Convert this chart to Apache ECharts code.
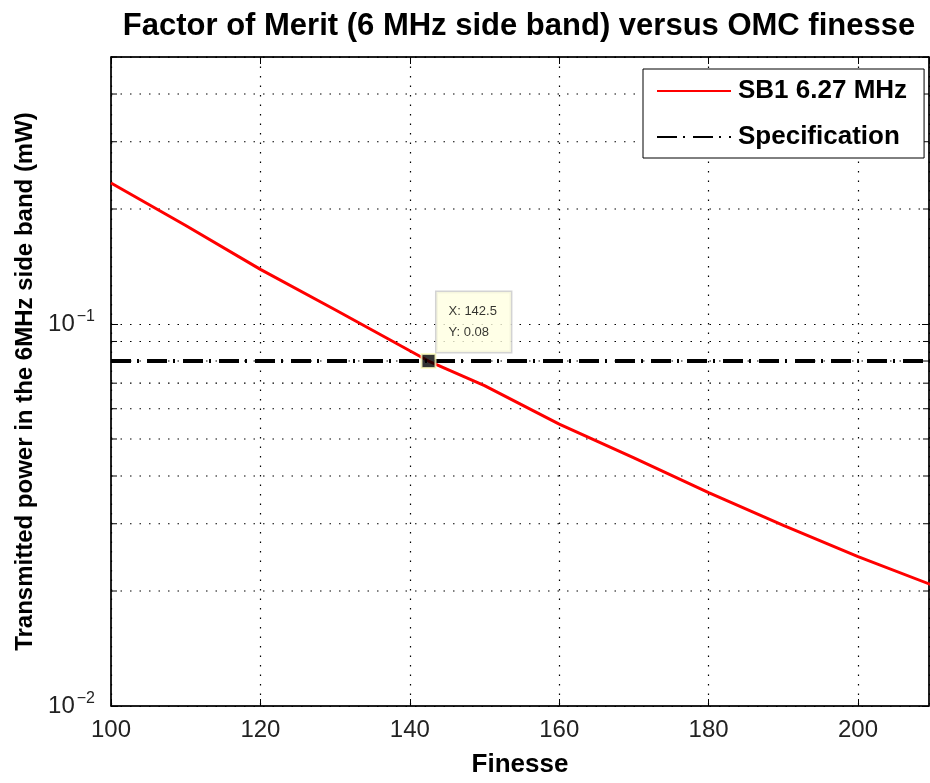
<!DOCTYPE html>
<html>
<head>
<meta charset="utf-8">
<title>Factor of Merit</title>
<script src="https://cdn.jsdelivr.net/npm/echarts@6/dist/echarts.min.js"></script>
<style>
	html, body { margin: 0; padding: 0; background: #fff; }
	#chart { width: 930px; height: 783px; }
</style>
</head>
<body>
<div id="chart"></div>
<script>
/*曲线数据*/
var finesse = [100, 110, 120, 130, 140, 142.5, 150, 160, 170, 180, 190, 200, 210];
var power = [0.234, 0.181, 0.139, 0.109, 0.0851, 0.080, 0.0690, 0.0547, 0.0446, 0.0362, 0.0297, 0.0246, 0.0207];
var specX = [100, 210];
var specLevel = 0.08;
var markX = [142.5];
var markY = [0.08];
var yMinor = [0.02, 0.03, 0.04, 0.05, 0.06, 0.07, 0.08, 0.09, 0.2, 0.3, 0.4, 0.5];
var xMin = 100, xMax = 209.5;

var font = "'Liberation Sans', Arial, sans-serif";
var dots = [1.5, 8];

window.onload = function() {
	var myChart = echarts.init(document.getElementById('chart'));

	var specData = [];
	for (var i = 0; i < specX.length; i++) specData.push([specX[i], specLevel]);
	var curveData = [];
	for (var i = 0; i < finesse.length; i++) curveData.push([finesse[i], power[i]]);
	var minorData = [];
	for (var i = 0; i < yMinor.length; i++) minorData.push([xMin, yMinor[i]]);

	var option = {
		animation: false,
		backgroundColor: '#fff',
		title: {
			text: 'Factor of Merit (6 MHz side band) versus OMC finesse',
			left: 514, top: 6, textAlign: 'center',
			textStyle: { fontFamily: font, fontSize: 31, fontWeight: 'bold', color: '#000' }
		},
		legend: {
			left: 643, top: 69,
			orient: 'vertical',
			padding: [9, 17, 8, 13],
			itemGap: 20,
			itemWidth: 74, itemHeight: 14,
			borderColor: '#000', borderWidth: 1,
			backgroundColor: '#fff',
			itemStyle: { opacity: 0 },
			textStyle: { fontFamily: font, fontSize: 26, fontWeight: 'bold', color: '#000', padding: [0, 0, 0, 2] },
			data: ['SB1 6.27 MHz', 'Specification']
		},
		grid: {
			left: 111, right: 1, top: 57, bottom: 77,
			outerBoundsMode: 'none',
			show: true, borderColor: '#000', borderWidth: 1
		},
		xAxis: [{
			type: 'value', min: xMin, max: xMax, interval: 20,
			name: 'Finesse', nameLocation: 'middle', nameGap: 46,
			nameTextStyle: { fontFamily: font, fontSize: 26, fontWeight: 'bold', color: '#000' },
			axisLine: { lineStyle: { color: '#000', width: 1.5 } },
			axisTick: { inside: true, length: 7, lineStyle: { color: '#000' } },
			axisLabel: { fontFamily: font, fontSize: 24, color: '#222', margin: 12, showMaxLabel: false },
			splitLine: { show: true, lineStyle: { color: '#000', type: dots, width: 1.2 } }
		}, {
			type: 'value', min: xMin, max: xMax, interval: 20, position: 'top',
			axisLine: { lineStyle: { color: '#000', width: 1.5 } },
			axisTick: { inside: true, length: 7, lineStyle: { color: '#000' } },
			axisLabel: { show: false }, splitLine: { show: false }
		}],
		yAxis: [{
			type: 'log', logBase: 10, min: 0.01, max: 0.5,
			name: 'Transmitted power in the 6MHz side band (mW)',
			nameLocation: 'middle', nameGap: 72,
			nameTextStyle: { fontFamily: font, fontSize: 24, fontWeight: 'bold', color: '#000' },
			axisLine: { lineStyle: { color: '#000', width: 1.5 } },
			axisTick: { inside: true, length: 7, lineStyle: { color: '#000' } },
			axisLabel: {
				margin: 16,
				showMaxLabel: false,
				formatter: function(v) {
					var e = Math.round(Math.log(v) / Math.LN10);
					return '{b|10}{s|' + (e < 0 ? '\u2212' + (-e) : e) + '}';
				},
				rich: {
					b: { fontFamily: font, fontSize: 24, color: '#222' },
					s: { fontFamily: font, fontSize: 16, color: '#222', verticalAlign: 'top', padding: [0, 0, 14, 2] }
				}
			},
			splitLine: { show: true, lineStyle: { color: '#000', type: dots, width: 1.2 } }
		}, {
			type: 'log', logBase: 10, min: 0.01, max: 0.5, position: 'right',
			axisLine: { lineStyle: { color: '#000', width: 1.5 } },
			axisTick: { inside: true, length: 7, lineStyle: { color: '#000' } },
			axisLabel: { show: false }, splitLine: { show: false }
		}],
		series: [{
			/*对数轴的次网格线和刻度*/
			type: 'custom',
			silent: true,
			z: 1,
			data: minorData,
			renderItem: function(params, api) {
				var a = api.coord([xMin, api.value(1)]);
				var b = api.coord([xMax, api.value(1)]);
				return {
					type: 'group',
					children: [{
						type: 'line',
						shape: { x1: a[0], y1: a[1], x2: b[0], y2: b[1] },
						style: { stroke: '#000', lineWidth: 1.2, lineDash: dots }
					}, {
						type: 'line',
						shape: { x1: a[0], y1: a[1], x2: a[0] + 6, y2: a[1] },
						style: { stroke: '#000', lineWidth: 1 }
					}, {
						type: 'line',
						shape: { x1: b[0] - 6, y1: b[1], x2: b[0], y2: b[1] },
						style: { stroke: '#000', lineWidth: 1 }
					}]
				};
			}
		}, {
			name: 'SB1 6.27 MHz',
			type: 'line',
			data: curveData,
			symbol: 'none',
			z: 3,
			lineStyle: { color: '#ff0000', width: 3 },
			itemStyle: { color: '#ff0000' }
		}, {
			name: 'Specification',
			type: 'line',
			data: specData,
			symbol: 'none',
			z: 4,
			lineStyle: { color: '#000', width: 4, type: [20, 6, 2, 8] },
			itemStyle: { color: '#000' }
		}, {
			/*数据游标*/
			type: 'scatter',
			data: [[markX[0], markY[0]]],
			symbol: 'rect',
			symbolSize: 14,
			z: 5,
			itemStyle: { color: '#000', borderColor: '#ffffc0', borderWidth: 2 },
			label: {
				show: true,
				position: [16, -61],
				formatter: function(p) {
					return 'X: ' + p.value[0] + '\nY: ' + p.value[1];
				},
				fontFamily: font, fontSize: 13, color: '#000',
				lineHeight: 21,
				backgroundColor: '#ffffe1',
				borderColor: '#c8c8c8', borderWidth: 1.5,
				padding: [9, 14, 9, 12]
			}
		}]
	};
	myChart.setOption(option);
}
</script>
</body>
</html>
